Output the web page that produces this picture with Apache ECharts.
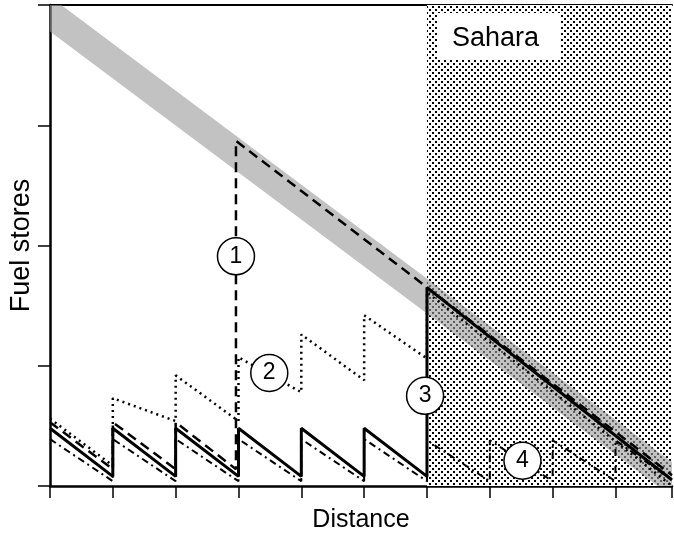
<!DOCTYPE html>
<html>
<head>
<meta charset="utf-8">
<script src="https://cdn.jsdelivr.net/npm/echarts@6/dist/echarts.min.js"></script>
<style>
  html, body { margin: 0; background: #fff; }
  #chart { width: 674px; height: 538px; }
</style>
</head>
<body>
<div id="chart"></div>
<script>
// axis ranges
const distanceMax = 9.9
const fuelMax = 4
const saharaStart = 6

// grey band edges
const bandUpper = [[0, 4.07], [9.9, 0.20]]
const bandLower = [[0, 3.78], [9.9, -0.09]]

// strategy 1: dashed, fattens once at x=3
const fuelDashed = [
  [0, 0.53], [1, 0.14], [1, 0.53], [2, 0.14], [2, 0.53], [2.96, 0.14],
  [2.96, 2.87], [9.9, 0.09]
]
// strategy 2: dotted, gradual fattening
const fuelDotted = [
  [0, 0.56], [1, 0.17], [1, 0.73], [2, 0.54], [2, 0.92], [3, 0.54],
  [3, 1.07], [4, 0.78], [4, 1.26], [5, 0.88], [5, 1.42], [6, 1.06],
  [6, 1.61], [9.9, 0.0]
]
// strategy 3: solid, fattens just before the Sahara
const fuelSolid = [
  [0, 0.48], [1, 0.08], [1, 0.48], [2, 0.08], [2, 0.48], [3, 0.08],
  [3, 0.48], [4, 0.08], [4, 0.48], [5, 0.08], [5, 0.48], [6, 0.08],
  [6, 1.65], [9.9, 0.05]
]
// strategy 4: dash-dot, never fattens
const fuelDashDot = [
  [0, 0.39], [1, 0.04], [1, 0.39], [2, 0.04], [2, 0.39], [3, 0.04],
  [3, 0.39], [4, 0.04], [4, 0.39], [5, 0.04], [5, 0.39], [6, 0.04],
  [6, 0.38], [7, 0.04], [7, 0.38], [8, 0.04], [8, 0.38], [9, 0.04],
  [9, 0.38], [9.9, 0.05]
]

// circled numbers
const markers = [[2.96, 1.91, '1'], [3.49, 0.94, '2'], [5.97, 0.75, '3'], [7.52, 0.21, '4']]

const FONT = 'Liberation Sans, Arial, Helvetica, sans-serif'

function dotPattern () {
  let c = document.createElement('canvas')
  c.width = 6
  c.height = 6
  let ctx = c.getContext('2d')
  ctx.fillStyle = '#fff'
  ctx.fillRect(0, 0, 6, 6)
  ctx.fillStyle = '#000'
  ctx.fillRect(0, 0, 2, 2)
  ctx.fillRect(3, 3, 2, 2)
  return c
}

function fuelLine (data, width, type) {
  return {
    type: 'line',
    data: data,
    symbol: 'none',
    z: 5,
    lineStyle: { color: '#000', width: width, type: type }
  }
}

let myChart = echarts.init(document.getElementById('chart'))

myChart.setOption({
  animation: false,
  backgroundColor: '#fff',
  grid: { left: 49, right: 2, top: 5, bottom: 50 },
  xAxis: [
    {
      type: 'value',
      min: 0,
      max: distanceMax,
      interval: 1,
      name: 'Distance',
      nameLocation: 'middle',
      nameGap: 22,
      nameTextStyle: { fontSize: 25, color: '#000', fontFamily: FONT },
      axisLine: { show: true, lineStyle: { color: '#000', width: 2.5 } },
      axisTick: { show: true, length: 12, lineStyle: { color: '#000', width: 1.5 } },
      axisLabel: { show: false },
      splitLine: { show: false }
    },
    {
      type: 'value',
      position: 'top',
      min: 0,
      max: distanceMax,
      axisLine: { show: true, lineStyle: { color: '#000', width: 2 } },
      axisTick: { show: false },
      axisLabel: { show: false },
      splitLine: { show: false }
    }
  ],
  yAxis: {
    type: 'value',
    min: 0,
    max: fuelMax,
    interval: 1,
    name: 'Fuel stores',
    nameLocation: 'middle',
    nameGap: 15,
    nameTextStyle: { fontSize: 27, color: '#000', fontFamily: FONT },
    axisLine: { show: true, lineStyle: { color: '#000', width: 2.5 } },
    axisTick: { show: true, length: 12, lineStyle: { color: '#000', width: 1.5 } },
    axisLabel: { show: false },
    splitLine: { show: false }
  },
  series: [
    {
      // Sahara region
      type: 'line',
      data: [],
      z: 1,
      markArea: {
        silent: true,
        itemStyle: { color: { image: dotPattern(), repeat: 'repeat' } },
        data: [[{ xAxis: saharaStart, yAxis: fuelMax }, { xAxis: distanceMax, yAxis: 0 }]]
      }
    },
    {
      // grey band
      type: 'custom',
      z: 2,
      data: [0],
      renderItem: function (params, api) {
        let cs = params.coordSys
        let pts = bandUpper.map(p => api.coord(p))
          .concat(bandLower.slice().reverse().map(p => api.coord(p)))
        return {
          type: 'polygon',
          shape: { points: pts },
          style: { fill: '#9a9a9a', opacity: 0.6 },
          clipPath: { type: 'rect', shape: { x: cs.x, y: cs.y, width: cs.width, height: cs.height } }
        }
      }
    },
    fuelLine(fuelDashDot, 2, [7, 4, 2, 4]),
    fuelLine(fuelDotted, 2.5, [2, 4]),
    fuelLine(fuelDashed, 2.5, [10, 6]),
    fuelLine(fuelSolid, 3, 'solid'),
    {
      // Sahara label box
      type: 'scatter',
      z: 6,
      symbolSize: 0,
      itemStyle: { opacity: 1 },
      data: [{ value: [saharaStart, fuelMax], name: 'Sahara' }],
      label: {
        show: true,
        position: [10, 8],
        formatter: '{b}',
        fontSize: 27,
        fontFamily: FONT,
        color: '#000',
        opacity: 1,
        backgroundColor: '#fff',
        padding: [12, 22, 8, 15]
      }
    },
    {
      type: 'scatter',
      z: 10,
      symbol: 'circle',
      symbolSize: 37,
      data: markers.map(m => ({ value: [m[0], m[1]], name: m[2] })),
      itemStyle: { color: '#fff', borderColor: '#000', borderWidth: 1.5, opacity: 1 },
      label: {
        show: true,
        position: 'inside',
        formatter: '{b}',
        fontSize: 23,
        fontFamily: FONT,
        color: '#000'
      }
    }
  ]
})
</script>
</body>
</html>
